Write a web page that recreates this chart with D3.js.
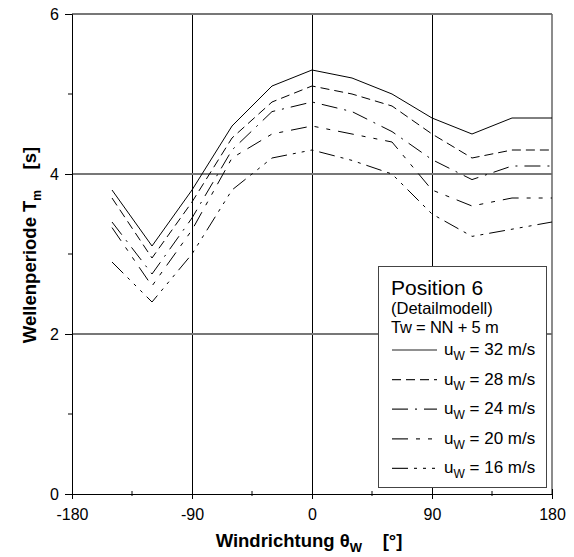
<!DOCTYPE html>
<html>
<head>
<meta charset="utf-8">
<script src="https://cdn.jsdelivr.net/npm/d3@7"></script>
<style>
  body { margin: 0; background: #fff; }
  svg { display: block; font-family: "Liberation Sans", Arial, sans-serif; }
</style>
</head>
<body>
<svg id="chart"></svg>
<script>
// wind direction (deg) and wave period Tm (s) per wind speed
const directions = [-150, -120, -90, -60, -30, 0, 30, 60, 90, 120, 150, 180];
const tm32 = [3.8, 3.1, 3.8, 4.6, 5.1, 5.3, 5.2, 5.0, 4.7, 4.5, 4.7, 4.7];
const tm28 = [3.7, 2.95, 3.65, 4.45, 4.9, 5.1, 5.0, 4.85, 4.5, 4.2, 4.3, 4.3];
const tm24 = [3.4, 2.75, 3.45, 4.3, 4.78, 4.9, 4.78, 4.53, 4.18, 3.93, 4.1, 4.1];
const tm20 = [3.33, 2.6, 3.3, 4.2, 4.5, 4.6, 4.5, 4.4, 3.8, 3.6, 3.7, 3.7];
const tm16 = [2.9, 2.4, 3.0, 3.8, 4.2, 4.3, 4.17, 4.0, 3.5, 3.22, 3.31, 3.4];
const speeds = ["32", "28", "24", "20", "16"];
const xTicks = [-180, -90, 0, 90, 180];
const xMinor = [-135, -45, 45, 135];
const yTicks = [0, 2, 4, 6];
const yMinor = [1, 3, 5];

const dashes = [null, "9,5", "16,7,2,7", "16,8,4,8,4,8", "16,6,3,6,3,6,3,6"];
const series = [tm32, tm28, tm24, tm20, tm16].map((v, i) => ({speed: speeds[i], values: v, dash: dashes[i]}));

const width = 574, height = 557;
const svg = d3.select("#chart").attr("width", width).attr("height", height);

const x = d3.scaleLinear().domain([-180, 180]).range([72, 552]);
const y = d3.scaleLinear().domain([0, 6]).range([494, 14]);

// grid
svg.append("g").selectAll("line").data([-90, 0, 90]).join("line")
  .attr("x1", d => x(d) + 0.5).attr("x2", d => x(d) + 0.5)
  .attr("y1", y(0)).attr("y2", y(6))
  .attr("stroke", "#000").attr("stroke-width", 1);
svg.append("g").selectAll("line").data([2, 4, 6]).join("line")
  .attr("x1", x(-180)).attr("x2", x(180))
  .attr("y1", d => y(d)).attr("y2", d => y(d))
  .attr("stroke", "#777").attr("stroke-width", 2);
svg.append("line")
  .attr("x1", x(180)).attr("x2", x(180)).attr("y1", y(0)).attr("y2", y(6))
  .attr("stroke", "#666").attr("stroke-width", 1.5);

// axes
const fmt = d => String(d);
const yAxis = d3.axisLeft(y).tickValues(yTicks).tickSize(7).tickPadding(6).tickFormat(fmt);
const gy = svg.append("g").attr("transform", `translate(${x(-180)},0)`).call(yAxis);
gy.select(".domain").attr("stroke", "#000");
gy.selectAll(".tick text").attr("font-size", 16).attr("fill", "#000").attr("font-family", "Liberation Sans, Arial, sans-serif");
gy.selectAll(".tick line").attr("stroke", "#000");
svg.append("g").selectAll("line").data(yMinor).join("line")
  .attr("x1", x(-180) - 4).attr("x2", x(-180))
  .attr("y1", d => y(d)).attr("y2", d => y(d)).attr("stroke", "#000");

const xAxis = d3.axisBottom(x).tickValues(xTicks).tickSize(5).tickPadding(10).tickFormat(fmt);
const gx = svg.append("g").attr("transform", `translate(0,${y(0)})`).call(xAxis);
gx.select(".domain").attr("stroke", "#000");
gx.selectAll(".tick text").attr("font-size", 16).attr("fill", "#000").attr("font-family", "Liberation Sans, Arial, sans-serif");
gx.selectAll(".tick line").attr("stroke", "#000").attr("y1", -5);
svg.append("g").selectAll("line").data(xMinor).join("line")
  .attr("x1", d => x(d)).attr("x2", d => x(d))
  .attr("y1", y(0) - 3).attr("y2", y(0) + 2).attr("stroke", "#000");

// data lines
const line = d3.line().x((d, i) => x(directions[i])).y(d => y(d));
svg.append("g").selectAll("path").data(series).join("path")
  .attr("d", d => line(d.values))
  .attr("fill", "none").attr("stroke", "#000").attr("stroke-width", 1)
  .attr("stroke-dasharray", d => d.dash);

// legend
const lg = svg.append("g");
lg.append("rect").attr("x", 378.5).attr("y", 266.5).attr("width", 168).attr("height", 221)
  .attr("fill", "#fff").attr("stroke", "#444").attr("stroke-width", 1);
lg.append("text").attr("x", 391).attr("y", 295).attr("font-size", 21).text("Position 6");
lg.append("text").attr("x", 391).attr("y", 314).attr("font-size", 16.5).text("(Detailmodell)");
lg.append("text").attr("x", 391).attr("y", 333).attr("font-size", 16.5).attr("letter-spacing", -0.2).text("Tw = NN + 5 m");
const rows = lg.selectAll("g.row").data(series).join("g").attr("class", "row")
  .attr("transform", (d, i) => `translate(0,${355 + i * 29.6})`);
rows.append("line").attr("x1", 392).attr("x2", 437).attr("y1", -5).attr("y2", -5)
  .attr("stroke", "#222").attr("stroke-width", 1.2).attr("stroke-dasharray", d => d.dash);
const rt = rows.append("text").attr("x", 444).attr("font-size", 17);
rt.append("tspan").text("u");
rt.append("tspan").attr("font-size", 12).attr("dy", 5).text("W");
rt.append("tspan").attr("dy", -5).text(d => ` = ${d.speed} m/s`);

// axis titles
const xt = svg.append("text").attr("x", 309).attr("y", 547).attr("text-anchor", "middle")
  .attr("font-size", 18.5).attr("font-weight", "bold");
xt.append("tspan").text("Windrichtung θ");
xt.append("tspan").attr("font-size", 13).attr("dy", 5).text("W");
xt.append("tspan").attr("dy", -5).text("\u00a0\u00a0\u00a0\u00a0[°]");

const yt = svg.append("text").attr("transform", "translate(36,245) rotate(-90)").attr("text-anchor", "middle")
  .attr("font-size", 18.5).attr("font-weight", "bold");
yt.append("tspan").text("Wellenperiode T");
yt.append("tspan").attr("font-size", 12).attr("dy", 5).text("m");
yt.append("tspan").attr("dy", -5).text("\u00a0\u00a0\u00a0\u00a0[s]");
</script>
</body>
</html>
